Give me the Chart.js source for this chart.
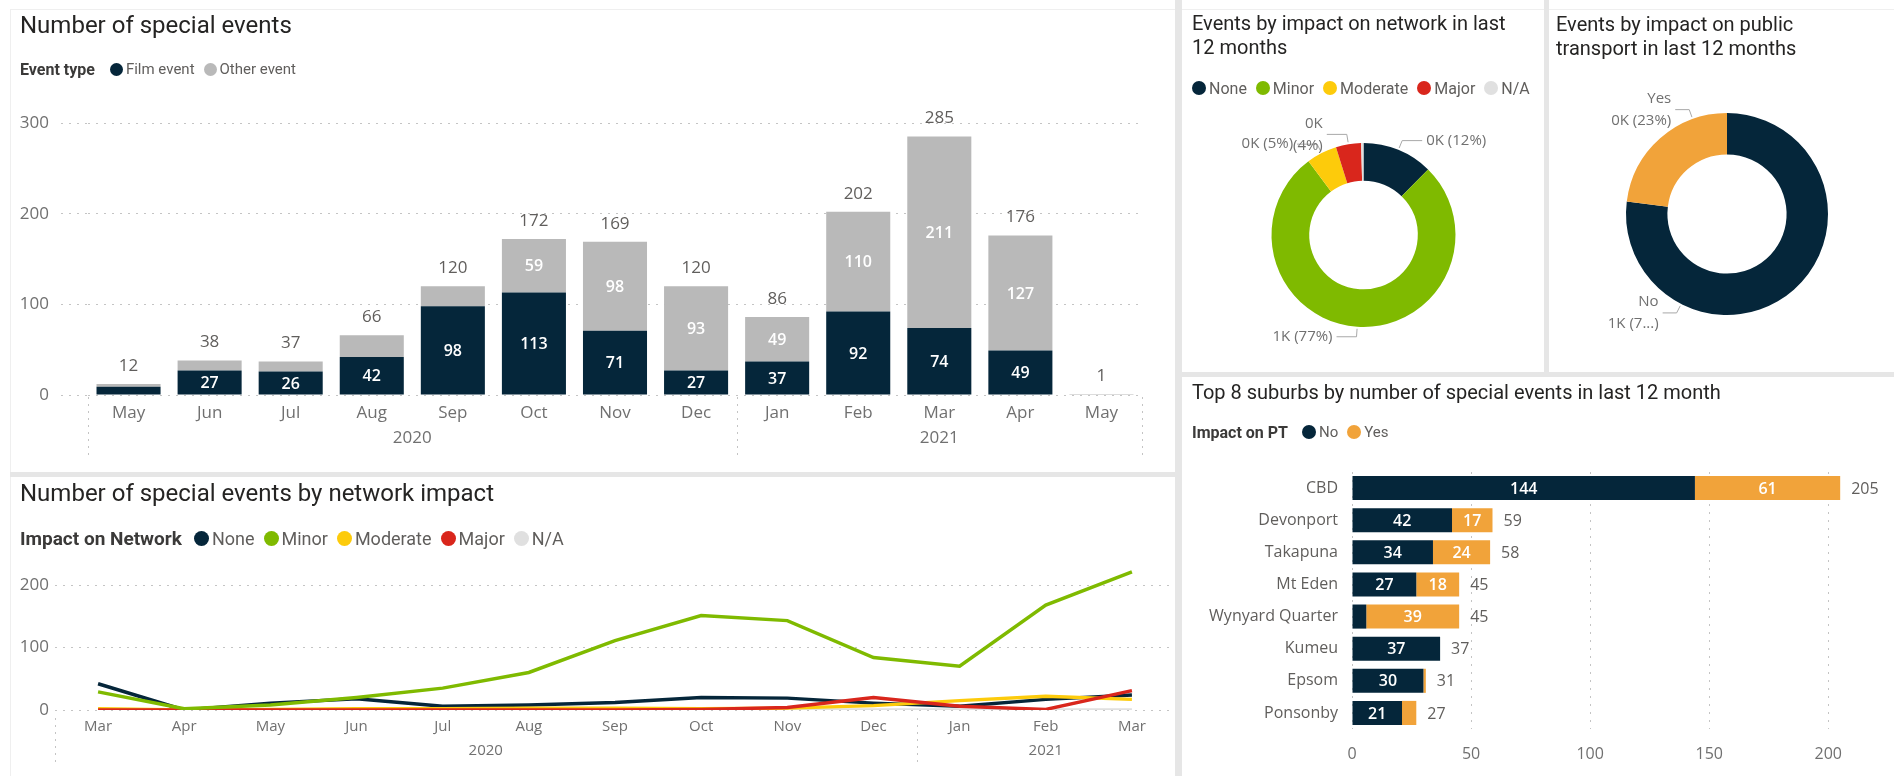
<!DOCTYPE html>
<html>
<head>
<meta charset="utf-8">
<title>Special events dashboard</title>
<script src="https://cdn.jsdelivr.net/npm/chart.js@4"></script>
<style>
  html, body { margin: 0; padding: 0; background: #fff; }
  #dash { position: relative; width: 1894px; height: 776px; overflow: hidden; font-family: Roboto, sans-serif; }
  #dash canvas { position: absolute; }
  .sep { position: absolute; background: #e6e6e6; }
  .line { position: absolute; background: #efefef; }
  .title { position: absolute; color: #252423; white-space: nowrap; z-index: 2; }
  .legend { position: absolute; display: flex; align-items: center; height: 20px; white-space: nowrap; color: #605e5c; z-index: 2; }
  .legend b { color: #3b3a39; }
  .legend i { display: inline-block; border-radius: 50%; flex: none; }
</style>
</head>
<body>
<div id="dash">
  <div class="line" style="left:10px;top:9px;width:1884px;height:1px"></div>
  <div class="line" style="left:10px;top:9px;width:1px;height:767px"></div>
  <div class="sep" style="left:1175px;top:0;width:7px;height:776px"></div>
  <div class="sep" style="left:10px;top:472px;width:1165px;height:5px"></div>
  <div class="sep" style="left:1182px;top:372px;width:712px;height:5px"></div>
  <div class="sep" style="left:1544px;top:0;width:5px;height:372px"></div>

  <canvas id="cA" width="1175" height="472" style="left:0;top:0"></canvas>
  <canvas id="cB" width="1175" height="299" style="left:0;top:477px"></canvas>
  <canvas id="cC" width="362" height="362" style="left:1182px;top:10px"></canvas>
  <canvas id="cD" width="345" height="362" style="left:1549px;top:10px"></canvas>
  <canvas id="cE" width="712" height="399" style="left:1182px;top:377px"></canvas>

  <div class="title" style="left:20px;top:11px;font-size:24px;line-height:28px">Number of special events</div>
  <div class="legend" id="legA" style="left:20px;top:59px"></div>

  <div class="title" style="left:20px;top:479px;font-size:24px;line-height:28px">Number of special events by network impact</div>
  <div class="legend" id="legB" style="left:20px;top:528px"></div>

  <div class="title" style="left:1192px;top:11px;font-size:20px;line-height:24px">Events by impact on network in last<br>12 months</div>
  <div class="legend" id="legC" style="left:1192px;top:78px"></div>

  <div class="title" style="left:1556px;top:12px;font-size:20px;line-height:24px">Events by impact on public<br>transport in last 12 months</div>

  <div class="title" style="left:1192px;top:380px;font-size:20px;line-height:24px">Top 8 suburbs by number of special events in last 12 month</div>
  <div class="legend" id="legE" style="left:1192px;top:422px"></div>
</div>

<script>
// Number of special events, by month
const months = ['May', 'Jun', 'Jul', 'Aug', 'Sep', 'Oct', 'Nov', 'Dec', 'Jan', 'Feb', 'Mar', 'Apr', 'May'];
const monthYears = ['2020', '2020', '2020', '2020', '2020', '2020', '2020', '2020', '2021', '2021', '2021', '2021', '2021'];
const filmEvents = [9, 27, 26, 42, 98, 113, 71, 27, 37, 92, 74, 49, 0];
const otherEvents = [3, 11, 11, 24, 22, 59, 98, 93, 49, 110, 211, 127, 1];
const eventTicks = [0, 100, 200, 300];

// Number of special events by network impact
const impactMonths = ['Mar', 'Apr', 'May', 'Jun', 'Jul', 'Aug', 'Sep', 'Oct', 'Nov', 'Dec', 'Jan', 'Feb', 'Mar'];
const impactYears = ['2020', '2020', '2020', '2020', '2020', '2020', '2020', '2020', '2020', '2020', '2021', '2021', '2021'];
const impactNames = ['None', 'Minor', 'Moderate', 'Major', 'N/A'];
const impactNone = [42, 0, 11, 18, 6, 8, 12, 20, 19, 11, 6, 17, 24];
const impactMinor = [29, 2, 8, 20, 35, 60, 111, 151, 143, 84, 70, 168, 221];
const impactModerate = [2, 0, 1, 2, 2, 3, 3, 2, 3, 7, 15, 22, 17];
const impactMajor = [0, 0, 0, 0, 0, 0, 0, 1, 4, 20, 6, 1, 31];
const impactNA = [1, 0, 0, 0, 0, 0, 0, 0, 0, 0, 0, 0, 0];
const impactTicks = [0, 100, 200];

// last 12 months totals
const networkImpact12m = [182, 1138, 79, 65, 6];
const ptNames = ['No', 'Yes'];
const ptImpact12m = [1133, 339];

// Top 8 suburbs
const suburbs = ['CBD', 'Devonport', 'Takapuna', 'Mt Eden', 'Wynyard Quarter', 'Kumeu', 'Epsom', 'Ponsonby'];
const suburbNoPT = [144, 42, 34, 27, 6, 37, 30, 21];
const suburbYesPT = [61, 17, 24, 18, 39, 0, 1, 6];
const suburbTicks = [0, 50, 100, 150, 200];

const NAVY = '#05263a';
const LIGHT = '#b9b9b9';
const GREEN = '#7fba00';
const YELLOW = '#fdcb0b';
const RED = '#d9261c';
const NA = '#e0e0e0';
const ORANGE = '#f1a33a';
const GRID = '#c4c4c4';
const impactColors = [NAVY, GREEN, YELLOW, RED, NA];
const ptColors = [NAVY, ORANGE];

Chart.defaults.font.family = "'Open Sans', sans-serif";
Chart.defaults.color = '#707070';

function legend(id, title, names, colors, s) {
  let html = '';
  if (title) html += '<b style="font-size:' + s.title + 'px;margin-right:' + s.gapTitle + 'px">' + title + '</b>';
  names.forEach((n, i) => {
    html += '<i style="width:' + s.dot + 'px;height:' + s.dot + 'px;background:' + colors[i] + ';margin-right:3px"></i>' +
            '<span style="font-size:' + s.text + 'px;margin-right:9px">' + n + '</span>';
  });
  document.getElementById(id).innerHTML = html;
}

// value labels inside stacked bars + totals at the end
function stackLabels(o) {
  return {
    id: 'stackLabels',
    afterDatasetsDraw(chart) {
      const ctx = chart.ctx;
      const horiz = chart.options.indexAxis === 'y';
      ctx.save();
      ctx.textBaseline = 'middle';
      ctx.textAlign = 'center';
      ctx.fillStyle = '#ffffff';
      ctx.font = o.insideFont;
      chart.data.datasets.forEach((ds, di) => {
        chart.getDatasetMeta(di).data.forEach((bar, i) => {
          const v = ds.data[i];
          const size = horiz ? Math.abs(bar.x - bar.base) : Math.abs(bar.base - bar.y);
          if (!v || size < o.minSize) return;
          const cx = horiz ? (bar.x + bar.base) / 2 : bar.x;
          const cy = horiz ? bar.y : (bar.y + bar.base) / 2;
          ctx.fillText(v, cx, cy + 1);
        });
      });
      const valueScale = horiz ? chart.scales.x : chart.scales.y;
      const first = chart.getDatasetMeta(0).data;
      ctx.fillStyle = o.totalColor;
      ctx.font = o.totalFont;
      chart.data.labels.forEach((l, i) => {
        const total = chart.data.datasets.reduce((s, ds) => s + ds.data[i], 0);
        const p = valueScale.getPixelForValue(total);
        if (horiz) {
          ctx.textAlign = 'left';
          ctx.fillText(total, p + o.offset, first[i].y + 1);
        } else {
          ctx.fillText(total, first[i].x, p - o.offset);
        }
      });
      ctx.restore();
    }
  };
}

// year row under the month axis, with dotted separators
function yearGroups(o) {
  return {
    id: 'yearGroups',
    afterDraw(chart) {
      const x = chart.scales.x, bottom = chart.chartArea.bottom, ctx = chart.ctx;
      const runs = [];
      o.years.forEach((y, i) => {
        const last = runs[runs.length - 1];
        if (last && last.label === y) last.end = i;
        else runs.push({ label: y, start: i, end: i });
      });
      ctx.save();
      ctx.strokeStyle = GRID;
      ctx.lineWidth = 1;
      ctx.setLineDash([2, 5]);
      ctx.fillStyle = '#707070';
      ctx.font = o.font;
      ctx.textAlign = 'center';
      ctx.textBaseline = 'middle';
      const vline = px => {
        ctx.beginPath();
        ctx.moveTo(Math.round(px) + 0.5, bottom + o.from);
        ctx.lineTo(Math.round(px) + 0.5, bottom + o.to);
        ctx.stroke();
      };
      runs.forEach((r, k) => {
        vline(x.getPixelForValue(r.start - 0.5));
        if (k === runs.length - 1 && o.closeEnd) vline(x.getPixelForValue(r.end + 0.5));
        const mid = (x.getPixelForValue(r.start) + x.getPixelForValue(r.end)) / 2;
        ctx.fillText(r.label, mid, bottom + o.labelOffset);
      });
      ctx.restore();
    }
  };
}

// outside slice labels with leader lines
function sliceLabels(o) {
  return {
    id: 'sliceLabels',
    afterDatasetsDraw(chart) {
      const ctx = chart.ctx;
      const values = chart.data.datasets[0].data;
      const total = values.reduce((a, b) => a + b, 0);
      ctx.save();
      ctx.font = '15px "Open Sans", sans-serif';
      ctx.fillStyle = '#707070';
      ctx.strokeStyle = '#a8a8a8';
      ctx.lineWidth = 1;
      ctx.textBaseline = 'middle';
      chart.getDatasetMeta(0).data.forEach((arc, i) => {
        const lines = o.lines(i, Math.round(values[i] / 1000) + 'K', Math.round(values[i] / total * 100) + '%');
        if (!lines) return;
        const f = o.at ? o.at[i] : 0.5;
        const a = arc.startAngle + (arc.endAngle - arc.startAngle) * f;
        const c = Math.cos(a), s = Math.sin(a), R = arc.outerRadius;
        const x1 = arc.x + c * (R + o.radial), y1 = arc.y + s * (R + o.radial);
        const side = c >= 0 ? 1 : -1;
        const x2 = x1 + side * o.horiz;
        ctx.beginPath();
        ctx.moveTo(arc.x + c * (R + 2), arc.y + s * (R + 2));
        ctx.lineTo(x1, y1);
        ctx.lineTo(x2, y1);
        ctx.stroke();
        ctx.textAlign = side > 0 ? 'left' : 'right';
        const lh = 22;
        lines.forEach((t, k) => {
          ctx.fillText(t, x2 + side * 4, y1 + (k - (lines.length - 1) / 2) * lh);
        });
      });
      ctx.restore();
    }
  };
}

const noInteraction = { legend: { display: false }, tooltip: { enabled: false } };

legend('legA', 'Event type', ['Film event', 'Other event'], [NAVY, LIGHT], { title: 16, gapTitle: 15, dot: 13, text: 15 });
legend('legB', 'Impact on Network', impactNames, impactColors, { title: 19, gapTitle: 12, dot: 15, text: 18 });
legend('legC', '', impactNames, impactColors, { dot: 14, text: 16 });
legend('legE', 'Impact on PT', ptNames, ptColors, { title: 16, gapTitle: 14, dot: 14, text: 15 });

// Number of special events
new Chart(document.getElementById('cA'), {
  type: 'bar',
  data: {
    labels: months,
    datasets: [
      { label: 'Film event', data: filmEvents, backgroundColor: NAVY, categoryPercentage: 1, barPercentage: 0.79 },
      { label: 'Other event', data: otherEvents, backgroundColor: LIGHT, categoryPercentage: 1, barPercentage: 0.79 }
    ]
  },
  options: {
    responsive: false, animation: false, events: [],
    layout: { padding: { left: 0, right: 33, top: 123, bottom: 0 } },
    scales: {
      x: {
        stacked: true,
        grid: { display: false, drawTicks: false }, border: { display: false },
        ticks: { font: { size: 17 }, padding: 8, maxRotation: 0, autoSkip: false },
        afterFit: s => { s.height = 77; }
      },
      y: {
        stacked: true, min: 0, max: 300,
        afterBuildTicks: s => { s.ticks = eventTicks.map(v => ({ value: v })); },
        ticks: { font: { size: 17 }, padding: 12 },
        grid: { color: GRID, tickLength: 27, tickColor: GRID, tickBorderDash: [2, 6] },
        border: { display: false, dash: [2, 6] },
        afterFit: s => { s.width = 88; }
      }
    },
    plugins: noInteraction
  },
  plugins: [
    stackLabels({ insideFont: '600 16px "Open Sans", sans-serif', totalFont: '17px "Open Sans", sans-serif', totalColor: '#605e5c', minSize: 23, offset: 18 }),
    yearGroups({ years: monthYears, font: '17px "Open Sans", sans-serif', from: 2, to: 60, labelOffset: 43, closeEnd: true })
  ]
});

// Number of special events by network impact
const impactSeries = [impactNone, impactMinor, impactModerate, impactMajor, impactNA];
const drawOrder = [3, 0, 2, 1, 4];
new Chart(document.getElementById('cB'), {
  type: 'line',
  data: {
    labels: impactMonths,
    datasets: impactNames.map((n, i) => ({
      label: n, data: impactSeries[i], borderColor: impactColors[i], backgroundColor: impactColors[i],
      borderWidth: 3.5, pointRadius: 0, tension: 0, order: drawOrder[i]
    }))
  },
  options: {
    responsive: false, animation: false, events: [],
    layout: { padding: { left: 0, right: 0, top: 83, bottom: 0 } },
    scales: {
      x: {
        offset: true,
        grid: { display: false, drawTicks: false }, border: { display: false },
        ticks: { font: { size: 15 }, padding: 8, maxRotation: 0, autoSkip: false },
        afterFit: s => { s.height = 66; }
      },
      y: {
        min: 0, max: 240,
        afterBuildTicks: s => { s.ticks = impactTicks.map(v => ({ value: v })); },
        ticks: { font: { size: 17 }, padding: 6 },
        grid: { color: GRID, drawTicks: false },
        border: { display: false, dash: [2, 6] },
        afterFit: s => { s.width = 55; }
      }
    },
    plugins: noInteraction
  },
  plugins: [yearGroups({ years: impactYears, font: '15px "Open Sans", sans-serif', from: 8, to: 55, labelOffset: 41, closeEnd: false })]
});

// Events by impact on network in last 12 months
new Chart(document.getElementById('cC'), {
  type: 'doughnut',
  data: { labels: impactNames, datasets: [{ data: networkImpact12m, backgroundColor: impactColors, borderWidth: 0 }] },
  options: {
    responsive: false, animation: false, events: [], cutout: '59%',
    layout: { padding: { left: 89.5, right: 88.5, top: 133, bottom: 45 } },
    plugins: noInteraction
  },
  plugins: [sliceLabels({
    radial: 10, horiz: 20,
    lines: (i, k, p) => {
      if (i === 4) return null;
      if (i === 3) return [k, '(' + p + ')'];
      return [k + ' (' + p + ')'];
    }
  })]
});

// Events by impact on public transport in last 12 months
new Chart(document.getElementById('cD'), {
  type: 'doughnut',
  data: { labels: ptNames, datasets: [{ data: ptImpact12m, backgroundColor: ptColors, borderWidth: 0 }] },
  options: {
    responsive: false, animation: false, events: [], cutout: '59%',
    layout: { padding: { left: 77, right: 66, top: 103, bottom: 57 } },
    plugins: noInteraction
  },
  plugins: [sliceLabels({
    radial: 10, horiz: 14, at: [0.747, 0.76],
    lines: (i, k, p) => i === 0 ? [ptNames[i], k + ' (7...)'] : [ptNames[i], k + ' (' + p + ')']
  })]
});

// Top 8 suburbs by number of special events
new Chart(document.getElementById('cE'), {
  type: 'bar',
  data: {
    labels: suburbs,
    datasets: [
      { label: 'No', data: suburbNoPT, backgroundColor: NAVY, categoryPercentage: 1, barPercentage: 0.75 },
      { label: 'Yes', data: suburbYesPT, backgroundColor: ORANGE, categoryPercentage: 1, barPercentage: 0.75 }
    ]
  },
  options: {
    indexAxis: 'y',
    responsive: false, animation: false, events: [],
    layout: { padding: { left: 0, right: 30, top: 95, bottom: 0 } },
    scales: {
      x: {
        stacked: true, min: 0, max: 215,
        afterBuildTicks: s => { s.ticks = suburbTicks.map(v => ({ value: v })); },
        ticks: { font: { size: 16 }, padding: 16 },
        grid: { color: GRID, drawTicks: false },
        border: { display: false, dash: [2, 6] },
        afterFit: s => { s.height = 47; }
      },
      y: {
        stacked: true,
        grid: { display: false, drawTicks: false }, border: { display: false },
        ticks: { font: { size: 16 }, color: '#605e5c', padding: 14, autoSkip: false },
        afterFit: s => { s.width = 170; }
      }
    },
    plugins: noInteraction
  },
  plugins: [stackLabels({ insideFont: '600 16px "Open Sans", sans-serif', totalFont: '16px "Open Sans", sans-serif', totalColor: '#605e5c', minSize: 25, offset: 11 })]
});
</script>
</body>
</html>
